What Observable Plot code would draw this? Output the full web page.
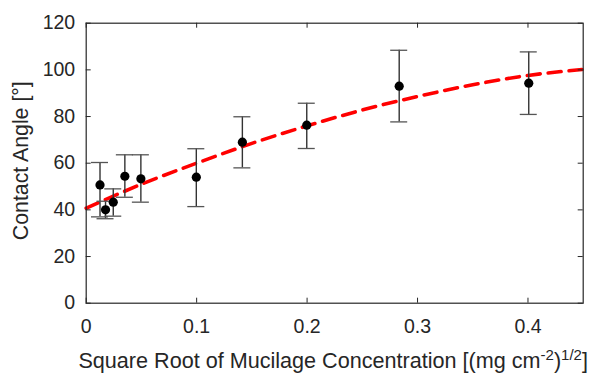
<!DOCTYPE html>
<html>
<head>
<meta charset="utf-8">
<script src="https://cdn.jsdelivr.net/npm/d3@7"></script>
<script src="https://cdn.jsdelivr.net/npm/@observablehq/plot@0.6"></script>
<style>
  html, body { margin: 0; padding: 0; background: #fff; }
  svg { display: block; }
</style>
</head>
<body>
<div id="chart"></div>
<script>
// Measured points (x = sqrt concentration, y = contact angle, with error bar ends)
const xs   = [0.0125, 0.0175, 0.0245, 0.035, 0.0495, 0.0997, 0.1414, 0.1997, 0.2834, 0.4007];
const ys   = [50.7, 40.0, 43.3, 54.4, 53.3, 54.0, 69.0, 76.3, 93.0, 94.3];
const yLo  = [37.0, 36.2, 37.3, 45.4, 43.3, 41.4, 58.0, 66.3, 77.7, 80.9];
const yHi  = [60.3, 43.7, 49.0, 63.6, 63.6, 66.2, 79.9, 85.7, 108.4, 107.7];

// Fitted curve
const fitX = [0, 0.05, 0.1, 0.15, 0.2, 0.25, 0.3, 0.35, 0.4, 0.45];
const fitY = [40.7, 51.0, 60.0, 68.5, 76.0, 82.8, 88.6, 93.6, 97.6, 100.2];

const xTicks = [0, 0.1, 0.2, 0.3, 0.4];
const xTickLabels = ["0", "0.1", "0.2", "0.3", "0.4"];
const yTicks = [0, 20, 40, 60, 80, 100, 120];

const pts = xs.map((x, i) => ({x, y: ys[i], lo: yLo[i], hi: yHi[i]}));
const fit = fitX.map((x, i) => ({x, y: fitY[i]}));

const ink = "#262626";
const W = 592, H = 373;
const mL = 85.7, mR = 9.3, mT = 22.7, mB = 70.3;
const innerW = W - mL - mR, innerH = H - mT - mB;
const tk = 5;
const FONT = "'Liberation Sans', Arial, sans-serif";

const plot = Plot.plot({
  width: W, height: H,
  marginLeft: mL, marginRight: mR, marginTop: mT, marginBottom: mB,
  style: {fontFamily: FONT, fontSize: "19.5px", color: ink, background: "#fff"},
  x: {domain: [0, 0.45]},
  y: {domain: [0, 120]},
  marks: [
    Plot.line(fit, {x: "x", y: "y", stroke: "#ff0000", strokeWidth: 3.6, strokeDasharray: "13,8", curve: "natural"}),
    Plot.ruleX(pts, {x: "x", y1: "lo", y2: "hi", stroke: "#333", strokeWidth: 1.4}),
    Plot.ruleY(pts, {y: "hi", x1: "x", x2: "x", insetLeft: -8.5, insetRight: -8.5, stroke: "#555", strokeWidth: 1.3}),
    Plot.ruleY(pts, {y: "lo", x1: "x", x2: "x", insetLeft: -8.5, insetRight: -8.5, stroke: "#555", strokeWidth: 1.3}),
    Plot.dot(pts, {x: "x", y: "y", r: 4.6, fill: "#000", stroke: "none"}),
    // inward ticks on all four sides
    Plot.tickX(xTicks, {x: d => d, insetTop: innerH - tk, stroke: ink, strokeWidth: 1}),
    Plot.tickX(xTicks, {x: d => d, insetBottom: innerH - tk, stroke: ink, strokeWidth: 1}),
    Plot.tickY(yTicks, {y: d => d, insetRight: innerW - tk, stroke: ink, strokeWidth: 1}),
    Plot.tickY(yTicks, {y: d => d, insetLeft: innerW - tk, stroke: ink, strokeWidth: 1}),
    Plot.frame({stroke: ink, strokeWidth: 1.2}),
    Plot.axisX(xTicks, {tickSize: 0, tickPadding: 16, label: null, tickFormat: (d, i) => xTickLabels[i], fill: ink}),
    Plot.axisY(yTicks, {tickSize: 0, tickPadding: 11, label: null, fill: ink})
  ]
});

document.getElementById("chart").appendChild(plot);

const svg = d3.select(plot);
// y-axis title
svg.append("text")
  .attr("transform", `translate(28,${mT + innerH / 2 - 2}) rotate(-90)`)
  .attr("text-anchor", "middle")
  .attr("fill", ink)
  .style("font-family", FONT)
  .style("font-size", "21.3px")
  .text("Contact Angle [°]");

// x-axis title with superscripts
const xt = svg.append("text")
  .attr("x", mL + innerW / 2 - 1)
  .attr("y", 367.5)
  .attr("text-anchor", "middle")
  .attr("fill", ink)
  .style("font-family", FONT)
  .style("font-size", "21.6px");
xt.append("tspan").text("Square Root of Mucilage Concentration [(mg cm");
xt.append("tspan").attr("dy", -8).style("font-size", "15px").text("-2");
xt.append("tspan").attr("dy", 8).text(")");
xt.append("tspan").attr("dy", -8).style("font-size", "15px").text("1/2");
xt.append("tspan").attr("dy", 8).text("]");
</script>
</body>
</html>
